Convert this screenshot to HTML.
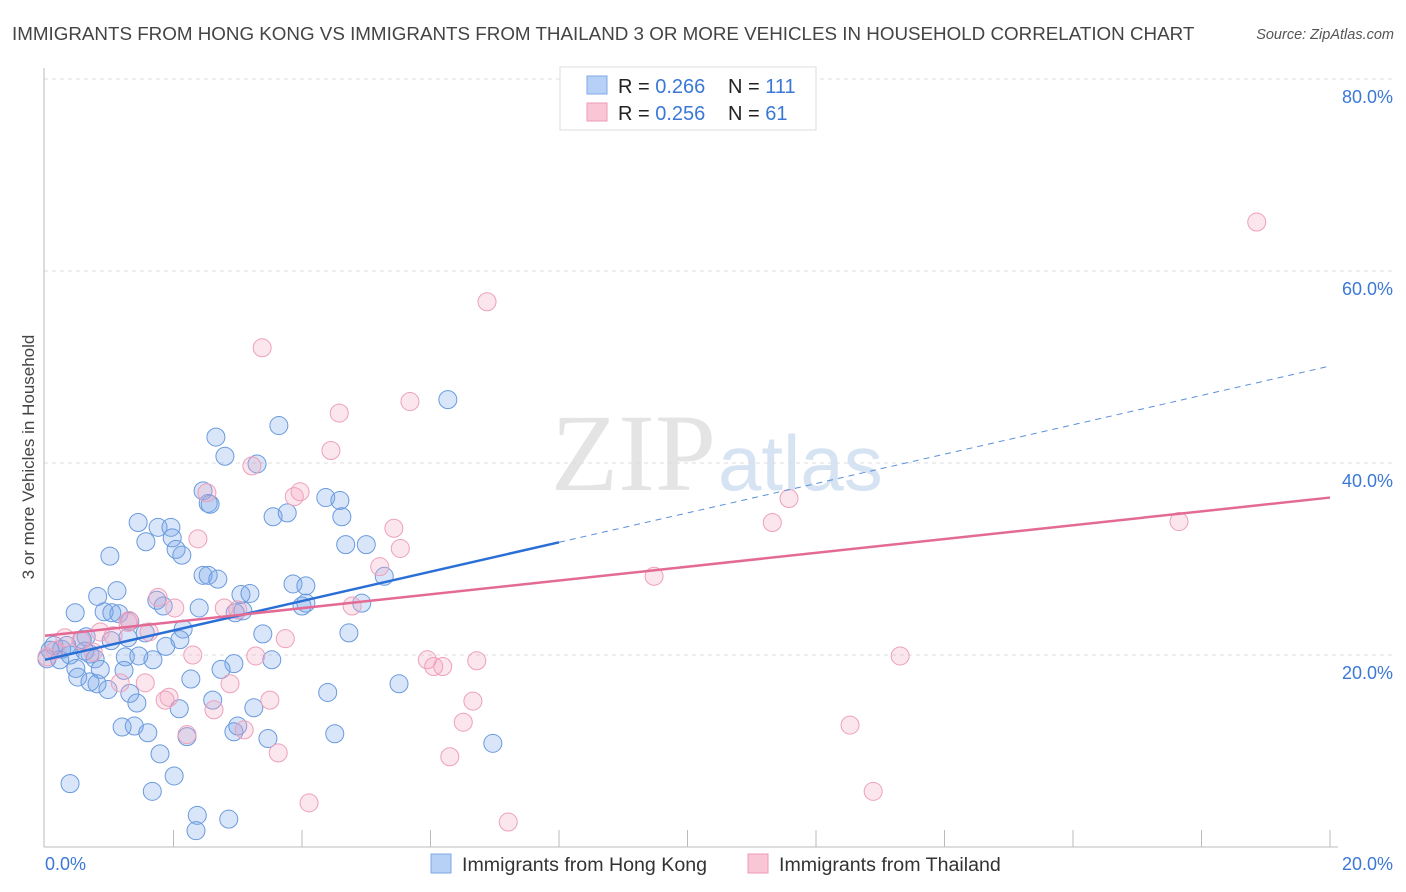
<!DOCTYPE html>
<html><head><meta charset="utf-8"><style>
body{margin:0;background:#fff;font-family:"Liberation Sans",sans-serif}
#wrap{position:relative;width:1406px;height:892px;overflow:hidden}
</style></head><body><div id="wrap">
<svg id="svg" width="1406" height="892" xmlns="http://www.w3.org/2000/svg">
<text x="12" y="40" font-size="18.8" fill="#444">IMMIGRANTS FROM HONG KONG VS IMMIGRANTS FROM THAILAND 3 OR MORE VEHICLES IN HOUSEHOLD CORRELATION CHART</text>
<text x="1394" y="39" font-size="14.5" fill="#555" font-style="italic" text-anchor="end">Source: ZipAtlas.com</text>
<text x="716" y="490" font-size="110" fill="#e4e4e4" text-anchor="end" font-family="Liberation Serif,serif">ZIP</text>
<text x="718" y="490" font-size="78" fill="#d6e3f3">atlas</text>
<text transform="translate(34,457) rotate(-90)" font-size="17" fill="#444" text-anchor="middle">3 or more Vehicles in Household</text>
<g id="grid"></g><g id="pts"></g><g id="lines"></g>
<g>
<rect x="560" y="67" width="256" height="63" fill="#fff" stroke="#ddd"/>
<rect x="587" y="76" width="20" height="18" fill="#b7d0f5" stroke="#7fa8e6"/>
<rect x="587" y="103" width="20" height="18" fill="#f9c6d6" stroke="#ef9ab6"/>
<text x="618" y="93" font-size="20" fill="#222">R = <tspan fill="#3b78d6">0.266</tspan></text>
<text x="728" y="93" font-size="20" fill="#222">N = <tspan fill="#3b78d6">111</tspan></text>
<text x="618" y="120" font-size="20" fill="#222">R = <tspan fill="#3b78d6">0.256</tspan></text>
<text x="728" y="120" font-size="20" fill="#222">N = <tspan fill="#3b78d6"> 61</tspan></text>
</g>
<g>
<rect x="431" y="854" width="20" height="19" fill="#b7d0f5" stroke="#7fa8e6"/>
<text x="462" y="871" font-size="19.6" fill="#333">Immigrants from Hong Kong</text>
<rect x="748" y="854" width="20" height="19" fill="#f9c6d6" stroke="#ef9ab6"/>
<text x="779" y="871" font-size="19.6" fill="#333">Immigrants from Thailand</text>
</g>
<text x="45" y="870" font-size="18" fill="#3b78d6">0.0%</text>
<text x="1393" y="870" font-size="18" fill="#3b78d6" text-anchor="end">20.0%</text>
</svg></div>
<script>
const yTicks=[20,40,60,80];
const yTickLabels=["20.0%","40.0%","60.0%","80.0%"];
const xTickVals=[2,4,6,8,10,12,14,16,18,20];
const hkX=[6.27,3.64,2.66,2.80,3.30,2.46,2.54,2.57,1.45,1.76,1.96,3.55,3.77,4.37,4.59,4.62,4.68,5.00,1.57,1.98,2.04,2.13,1.01,2.46,2.54,2.69,5.28,3.86,4.06,1.12,0.82,1.74,1.84,3.05,3.19,2.40,0.47,0.92,1.15,1.32,1.04,3.08,2.96,4.06,4.00,4.93,2.15,1.56,3.39,4.73,1.29,1.03,0.64,0.58,1.88,2.10,0.14,0.08,0.26,0.34,0.39,0.70,0.78,0.62,1.25,1.68,1.46,2.94,3.53,2.74,1.23,0.48,0.86,0.51,2.27,0.70,0.81,0.98,1.32,1.43,5.51,4.40,2.61,3.25,3.47,2.09,1.20,1.39,1.60,3.00,2.94,2.21,4.51,6.97,1.79,2.01,0.39,1.67,2.37,2.35,2.86,0.03,0.23];
const hkY=[46.6,43.9,42.7,40.7,39.9,37.1,35.8,35.7,33.8,33.3,33.3,34.4,34.8,36.4,36.1,34.4,31.5,31.5,31.8,32.2,31.0,30.4,30.3,28.3,28.3,27.9,28.2,27.4,27.2,26.7,26.1,25.7,25.1,26.3,26.4,24.9,24.4,24.5,24.3,23.5,24.4,24.6,24.4,25.4,25.1,25.4,22.7,22.3,22.2,22.3,21.8,21.5,21.9,21.6,20.9,21.6,21.0,20.5,20.6,21.0,20.0,20.1,19.6,20.4,19.8,19.5,19.9,19.1,19.5,18.5,18.4,18.6,18.5,17.7,17.5,17.2,17.0,16.4,16.0,15.0,17.0,16.1,15.3,14.5,11.3,14.4,12.5,12.6,11.9,12.6,12.0,11.5,11.8,10.8,9.7,7.4,6.6,5.8,3.3,1.7,2.9,19.6,19.5];
const thX=[18.86,6.88,3.38,5.68,4.58,4.45,3.22,2.52,3.88,3.97,5.43,5.53,5.21,2.38,17.65,11.58,11.32,9.48,1.76,2.02,2.79,3.00,4.78,1.29,0.86,1.62,3.74,2.30,3.28,5.95,6.05,6.19,6.72,13.31,0.31,0.16,0.03,0.75,1.17,1.56,2.88,1.93,1.87,3.50,2.63,2.21,3.10,6.66,6.51,12.53,3.63,6.30,4.11,12.89,7.21,0.56,1.06,1.31];
const thY=[65.1,56.8,52.0,46.4,45.2,41.3,39.7,36.9,36.5,37.0,33.2,31.1,29.2,32.1,33.9,36.3,33.8,28.2,26.0,24.9,24.9,24.7,25.1,23.4,22.4,22.4,21.7,20.0,19.9,19.5,18.8,18.8,19.4,19.9,21.8,20.5,19.8,20.3,17.1,17.1,17.0,15.6,15.3,15.3,14.3,11.7,12.2,15.2,13.0,12.7,9.8,9.4,4.6,5.8,2.6,21.5,22.0,23.6];
const hkLine=[19.5,50.1]; const hkSolidEnd=8;
const thLine=[22.0,36.4];
const NS="http://www.w3.org/2000/svg";
const xs=v=>45+v/20*1285, ys=v=>847-v/80*768;
function mk(t,a,p){const e=document.createElementNS(NS,t);for(const k in a)e.setAttribute(k,a[k]);document.getElementById(p).appendChild(e);return e;}
yTicks.forEach((t,i)=>{
 const g=mk('line',{x1:44,x2:1395,y1:ys(t),y2:ys(t),stroke:'#dcdcdc','stroke-dasharray':'4,4'},'grid');
 
 
 const l=mk('text',{x:1393,y:ys(t)+24,'font-size':18,fill:'#3b78d6','text-anchor':'end'},'grid');l.textContent=yTickLabels[i];
 
 
});
let a=mk('line',{x1:44,x2:44,y1:68,y2:847,stroke:'#bbb'},'grid');


a=mk('line',{x1:44,x2:1338,y1:847,y2:847,stroke:'#bbb'},'grid');


xTickVals.forEach(v=>{const t=mk('line',{x1:xs(v),x2:xs(v),y1:830,y2:847,stroke:'#bbb'},'grid');
 
 });
hkX.forEach((x,i)=>{const c=mk('circle',{cx:xs(x),cy:ys(hkY[i]),r:9,fill:'rgba(120,165,235,0.28)',stroke:'#6a9ade','stroke-width':1},'pts');
 
 });
thX.forEach((x,i)=>{const c=mk('circle',{cx:xs(x),cy:ys(thY[i]),r:9,fill:'rgba(245,165,195,0.28)',stroke:'#eda0ba','stroke-width':1},'pts');
 
 });
const hy=x=>hkLine[0]+(hkLine[1]-hkLine[0])*x/20;
let l=mk('line',{x1:xs(0),y1:ys(hy(0)),x2:xs(hkSolidEnd),y2:ys(hy(hkSolidEnd)),stroke:'#2a6fd6','stroke-width':2.5},'lines');


l=mk('line',{x1:xs(hkSolidEnd),y1:ys(hy(hkSolidEnd)),x2:xs(20),y2:ys(hy(20)),stroke:'#5b8fd9','stroke-width':1,'stroke-dasharray':'6,5'},'lines');


l=mk('line',{x1:xs(0),y1:ys(thLine[0]),x2:xs(20),y2:ys(thLine[1]),stroke:'#e46a96','stroke-width':2.5},'lines');


</script></body></html>
